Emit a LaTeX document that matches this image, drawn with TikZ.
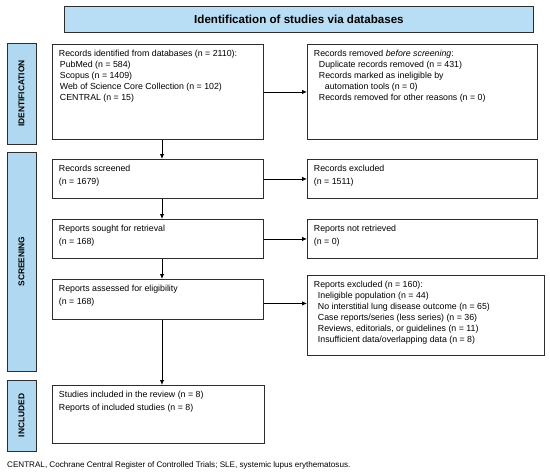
\documentclass[tikz,border=0pt]{standalone}
\usepackage{fontspec}
\setmainfont{Liberation Sans}
\usetikzlibrary{arrows.meta}
\definecolor{phaseblue}{RGB}{176,216,241}
\definecolor{headblue}{RGB}{184,222,245}
\definecolor{boxline}{RGB}{45,45,45}
\newcommand{\boxtxt}[3]{\begin{minipage}[t][#2pt][t]{#1pt}\fontsize{8.8}{11}\selectfont #3\end{minipage}}
\begin{document}
\begin{tikzpicture}[x=1pt,y=-1pt,
        flowbox/.style={draw=boxline,line width=.9pt,anchor=north west,inner xsep=6.5pt,inner ysep=6pt,fill=white},
        phase/.style={draw=boxline,line width=.9pt,fill=phaseblue,rotate=90,minimum height=29pt,inner sep=0pt,font=\fontsize{8.4}{9}\selectfont\bfseries},
        arr/.style={-{Latex[length=5pt,width=4.5pt]},line width=.9pt,draw=black}]
    \useasboundingbox (0,0) rectangle (550,475);
    \node[draw=boxline,line width=.9pt,fill=headblue,anchor=north west,minimum width=469pt,minimum height=26pt,inner sep=0pt,font=\fontsize{11.6}{13}\selectfont\bfseries] (head) at (64,6) {Identification of studies via databases};
    \node[phase,minimum width=101pt] (idlab) at (21.5,93.5) {IDENTIFICATION};
    \node[phase,minimum width=219pt] (sclab) at (21.5,261.5) {SCREENING};
    \node[phase,minimum width=71pt] (inlab) at (21.5,415.5) {INCLUDED};
    \node[flowbox] (ident) at (52,44) {\boxtxt{198}{83}{Records identified from databases (n = 2110):\\
        \hspace*{1pt}PubMed (n = 584)\\
        \hspace*{1pt}Scopus (n = 1409)\\
        \hspace*{1pt}Web of Science Core Collection (n = 102)\\
        \hspace*{1pt}CENTRAL (n = 15)}};
    \node[flowbox] (removed) at (307,44) {\boxtxt{217}{83}{Records removed \emph{before screening}:\\
        \hspace*{5pt}Duplicate records removed (n = 431)\\
        \hspace*{5pt}Records marked as ineligible by\\
        \hspace*{11pt}automation tools (n = 0)\\
        \hspace*{5pt}Records removed for other reasons (n = 0)}};
    \node[flowbox] (screened) at (52,159) {\boxtxt{198}{27}{Records screened\\[1.5pt](n = 1679)}};
    \node[flowbox] (excl) at (307,159) {\boxtxt{217}{27}{Records excluded\\[1.5pt](n = 1511)}};
    \node[flowbox] (sought) at (52,219) {\boxtxt{198}{27}{Reports sought for retrieval\\[1.5pt](n = 168)}};
    \node[flowbox] (notret) at (307,219) {\boxtxt{217}{27}{Reports not retrieved\\[1.5pt](n = 0)}};
    \node[flowbox] (assessed) at (52,279) {\boxtxt{198}{28}{Reports assessed for eligibility\\[1.5pt](n = 168)}};
    \node[flowbox] (repexcl) at (307,275) {\boxtxt{224}{68}{Reports excluded (n = 160):\\
        \hspace*{4pt}Ineligible population (n = 44)\\
        \hspace*{4pt}No interstitial lung disease outcome (n = 65)\\
        \hspace*{4pt}Case reports/series (less series) (n = 36)\\
        \hspace*{4pt}Reviews, editorials, or guidelines (n = 11)\\
        \hspace*{4pt}Insufficient data/overlapping data (n = 8)}};
    \node[flowbox] (incl) at (52,385) {\boxtxt{199}{46}{Studies included in the review (n = 8)\\[1.5pt]Reports of included studies (n = 8)}};
    \node[anchor=west,inner sep=0pt,font=\fontsize{8.1}{9}\selectfont] (note) at (7,465) {CENTRAL, Cochrane Central Register of Controlled Trials; SLE, systemic lupus erythematosus.};
    \coordinate (spine) at (162,0);
    \draw[arr] (ident.east) -- (removed.west);
    \draw[arr] (screened.east) -- (excl.west);
    \draw[arr] (sought.east) -- (notret.west);
    \draw[arr] ([yshift=-4pt]assessed.east) -- ([yshift=-4pt]assessed.east -| repexcl.west);
    \draw[arr] (ident.south -| spine) -- (screened.north -| spine);
    \draw[arr] (screened.south -| spine) -- (sought.north -| spine);
    \draw[arr] (sought.south -| spine) -- (assessed.north -| spine);
    \draw[arr] (assessed.south -| spine) -- (incl.north -| spine);
\end{tikzpicture}
\end{document}
